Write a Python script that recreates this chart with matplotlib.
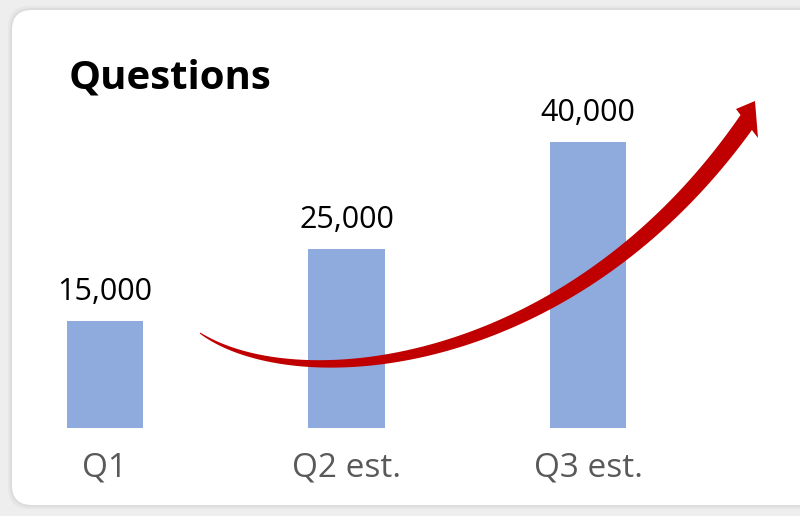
import numpy as np
import matplotlib
matplotlib.use("Agg")
import matplotlib.pyplot as plt
from matplotlib.patches import FancyBboxPatch, Polygon

# data
categories = ["Q1", "Q2 est.", "Q3 est."]
values = [15000, 25000, 40000]
value_labels = ["15,000", "25,000", "40,000"]

W, H = 800, 516
fig = plt.figure(figsize=(W / 100, H / 100), dpi=100)
fig.patch.set_facecolor("#eeeeee")

# card background (pixel coords, y down)
bg = fig.add_axes([0, 0, 1, 1], zorder=0)
bg.set_xlim(0, W)
bg.set_ylim(H, 0)
bg.axis("off")
for i, a in enumerate([0.05, 0.04, 0.03]):
    bg.add_patch(FancyBboxPatch((12 - i * 2, 10 - i * 2), 830 + i * 4, 495 + i * 4,
                                boxstyle="round,pad=0,rounding_size=22",
                                fc="#000000", ec="none", alpha=a))
bg.add_patch(FancyBboxPatch((12, 10), 830, 495, boxstyle="round,pad=0,rounding_size=20",
                            fc="white", ec="none"))

# bars
ax = fig.add_axes([0, 0, 1, 1], zorder=1)
ax.patch.set_alpha(0)
x = np.arange(len(categories))
px_unit = 241.5
px_per_k = 7.16
ax.set_xlim(-105 / px_unit, (W - 105) / px_unit)
ax.set_ylim(-(H - 428) / px_per_k * 1000, 428 / px_per_k * 1000)
ax.bar(x, values, width=0.315, color="#8faadc")
for xi, v, lab in zip(x, values, value_labels):
    ax.annotate(lab, (xi, v), xytext=(0, 10), textcoords="offset points",
                ha="center", va="bottom", fontsize=22, family="Open Sans", color="black")
for xi, c in zip(x, categories):
    ax.annotate(c, (xi, 0), xytext=(0, -29), textcoords="offset points",
                ha="center", va="center", fontsize=24, family="Open Sans", color="#595959")
ax.axis("off")

# title and arrow overlay
ov = fig.add_axes([0, 0, 1, 1], zorder=2)
ov.set_xlim(0, W)
ov.set_ylim(H, 0)
ov.axis("off")
ov.text(69, 78, "Questions", fontsize=29, fontweight="bold", family="Open Sans",
        ha="left", va="center", color="black")

# tapered curved arrow
p0, p1, p2, p3 = map(np.array, [(200, 333), (295, 398), (570, 375), (748, 120)])
t = np.linspace(0, 1, 200)[:, None]
pts = (1 - t) ** 3 * p0 + 3 * (1 - t) ** 2 * t * p1 + 3 * (1 - t) * t ** 2 * p2 + t ** 3 * p3
d = np.gradient(pts, axis=0)
d /= np.linalg.norm(d, axis=1)[:, None]
n = np.column_stack([-d[:, 1], d[:, 0]])
w = (1 + 17 * t[:, 0] ** 0.8) / 2
left = pts + n * w[:, None]
right = pts - n * w[:, None]
ov.add_patch(Polygon(np.vstack([left, right[::-1]]), closed=True, fc="#c00000", ec="none"))
ov.add_patch(Polygon([(736, 109), (755, 101), (758, 138)], closed=True, fc="#c00000", ec="none"))

fig.savefig("out.png", dpi=100, facecolor=fig.get_facecolor())
